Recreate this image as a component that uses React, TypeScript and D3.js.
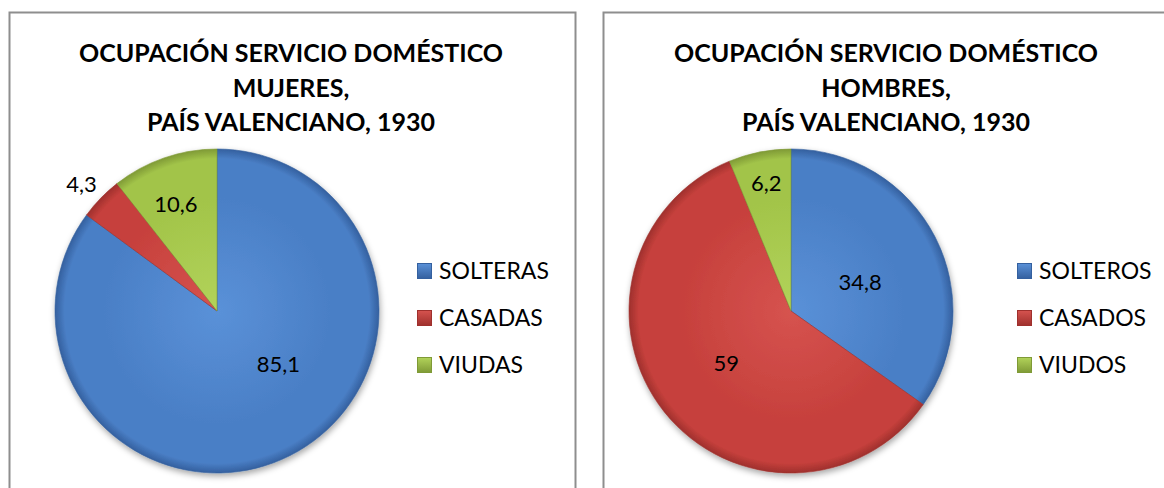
import React, { useEffect, useRef } from 'react';
import { select, pie, arc } from 'd3';

// data
const categoriesMujeres = ['SOLTERAS', 'CASADAS', 'VIUDAS'];
const valuesMujeres = [85.1, 4.3, 10.6];
const labelsMujeres = ['85,1', '4,3', '10,6'];

const categoriesHombres = ['SOLTEROS', 'CASADOS', 'VIUDOS'];
const valuesHombres = [34.8, 59, 6.2];
const labelsHombres = ['34,8', '59', '6,2'];

const titleMujeres = ['OCUPACIÓN SERVICIO DOMÉSTICO', 'MUJERES,', 'PAÍS VALENCIANO, 1930'];
const titleHombres = ['OCUPACIÓN SERVICIO DOMÉSTICO', 'HOMBRES,', 'PAÍS VALENCIANO, 1930'];

const colors = [
    { light: '#5a91d8', base: '#4a7fc6', dark: '#34609f' },
    { light: '#d6534f', base: '#c6403c', dark: '#9f302d' },
    { light: '#b2d35a', base: '#a2c449', dark: '#7f9a36' }
];

const FONT = 'Lato, "Open Sans", sans-serif';

interface PanelProps {
    id: string;
    x: number;
    width: number;
    title: string[];
    categories: string[];
    values: number[];
    labels: string[];
    cx: number;
    legendX: number;
    labelPos: { r: number; dx?: number; dy?: number }[];
}

const panels: PanelProps[] = [
    {
        id: 'm', x: 9, width: 566, title: titleMujeres, categories: categoriesMujeres,
        values: valuesMujeres, labels: labelsMujeres, cx: 208, legendX: 408,
        labelPos: [{ r: 0.36, dx: 35 }, { r: 1.13, dx: -4 }, { r: 0.7, dx: -4 }]
    },
    {
        id: 'h', x: 603, width: 568, title: titleHombres, categories: categoriesHombres,
        values: valuesHombres, labels: labelsHombres, cx: 188, legendX: 414,
        labelPos: [{ r: 0.48, dy: 6 }, { r: 0.51 }, { r: 0.79, dy: -3 }]
    }
];

const Chart: React.FC = () => {
    const svgRef = useRef<SVGSVGElement>(null);

    useEffect(() => {
        if (!svgRef.current) return;
        const svg = select(svgRef.current);
        svg.html('');

        const defs = svg.append('defs');
        const shadow = defs.append('filter').attr('id', 'shadow')
            .attr('x', '-20%').attr('y', '-20%').attr('width', '140%').attr('height', '140%');
        shadow.append('feDropShadow')
            .attr('dx', 1).attr('dy', 3).attr('stdDeviation', 3)
            .attr('flood-color', '#000').attr('flood-opacity', 0.35);

        const radius = 162;
        const cy = 311;

        panels.forEach(p => {
            const g = svg.append('g').attr('transform', `translate(${p.x}, 0)`);

            g.append('rect')
                .attr('x', 0.5).attr('y', 12.5)
                .attr('width', p.width).attr('height', 500)
                .attr('fill', '#fff')
                .attr('stroke', '#8e8e8e')
                .attr('stroke-width', 2);

            // title
            const title = g.append('text')
                .attr('text-anchor', 'middle')
                .style('font-family', FONT)
                .style('font-weight', 700)
                .style('font-size', '25px')
                .attr('fill', '#000');
            p.title.forEach((t, i) => {
                title.append('tspan')
                    .attr('x', p.width / 2 - 1)
                    .attr('y', 62 + i * 34.5)
                    .text(t);
            });

            // gradients (user space of the pie group, centred at 0,0)
            colors.forEach((c, i) => {
                const grad = defs.append('radialGradient')
                    .attr('id', `grad-${p.id}-${i}`)
                    .attr('gradientUnits', 'userSpaceOnUse')
                    .attr('cx', 0).attr('cy', 0).attr('r', radius);
                grad.append('stop').attr('offset', '0%').attr('stop-color', c.light);
                grad.append('stop').attr('offset', '70%').attr('stop-color', c.base);
                grad.append('stop').attr('offset', '94%').attr('stop-color', c.base);
                grad.append('stop').attr('offset', '100%').attr('stop-color', c.dark);

                const lg = defs.append('linearGradient')
                    .attr('id', `leg-${p.id}-${i}`)
                    .attr('x1', 0).attr('y1', 0).attr('x2', 0).attr('y2', 1);
                lg.append('stop').attr('offset', '0%').attr('stop-color', c.light);
                lg.append('stop').attr('offset', '100%').attr('stop-color', c.dark);
            });

            const pieGen = pie<number>().sort(null).value(d => d);
            const arcs = pieGen(p.values);
            const arcGen = arc<any>().innerRadius(0).outerRadius(radius);

            const pieG = g.append('g')
                .attr('transform', `translate(${p.cx}, ${cy})`)
                .attr('filter', 'url(#shadow)');

            pieG.selectAll('path')
                .data(arcs)
                .enter()
                .append('path')
                .attr('d', arcGen)
                .attr('fill', (_, i) => `url(#grad-${p.id}-${i})`)
                .attr('stroke', (_, i) => colors[i].dark)
                .attr('stroke-opacity', 0.6)
                .attr('stroke-width', 1);

            // data labels
            const labelG = g.append('g').attr('transform', `translate(${p.cx}, ${cy})`);
            arcs.forEach((a, i) => {
                const lp = p.labelPos[i];
                const lr = radius * lp.r;
                const c = arc<any>().innerRadius(lr).outerRadius(lr).centroid(a);
                labelG.append('text')
                    .attr('x', c[0] + (lp.dx || 0))
                    .attr('y', c[1] + (lp.dy || 0))
                    .attr('text-anchor', 'middle')
                    .attr('dominant-baseline', 'central')
                    .style('font-family', FONT)
                    .style('font-size', '22px')
                    .attr('fill', '#000')
                    .text(p.labels[i]);
            });

            // legend
            const leg = g.append('g').attr('transform', `translate(${p.legendX}, 263)`);
            p.categories.forEach((cat, i) => {
                const row = leg.append('g').attr('transform', `translate(0, ${i * 47})`);
                row.append('rect')
                    .attr('x', 0.5).attr('y', 0.5)
                    .attr('width', 14).attr('height', 15)
                    .attr('fill', `url(#leg-${p.id}-${i})`)
                    .attr('stroke', colors[i].dark)
                    .attr('stroke-width', 1);
                row.append('text')
                    .attr('x', 22)
                    .attr('y', 16)
                    .style('font-family', FONT)
                    .style('font-size', '23px')
                    .attr('fill', '#000')
                    .text(cat);
            });
        });
    }, []);

    return <svg ref={svgRef} width={1164} height={488} style={{ display: 'block', background: '#fff' }}></svg>;
};

export default function App() {
    return (
        <div style={{ position: 'fixed', left: 0, top: 0, width: 1164, height: 488, overflow: 'hidden', background: '#fff' }}>
            <Chart />
        </div>
    );
}
